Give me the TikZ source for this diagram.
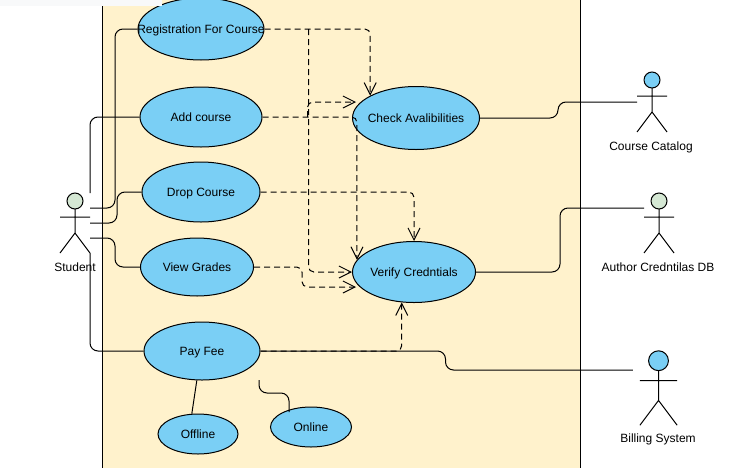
\documentclass[tikz,border=0pt]{standalone}
\usepackage{fontspec}
\setmainfont{Liberation Sans}
\usetikzlibrary{arrows.meta, positioning, calc, shapes.geometric}
\definecolor{ucBlue}{HTML}{7ACFF5}
\definecolor{sysBg}{HTML}{FFF2CC}
\definecolor{headGrn}{HTML}{D5E8D4}
\definecolor{barGray}{HTML}{F8F9FA}
\tikzset{
  % use case ellipses (text may run wider than the ellipse itself)
  uc/.style 2 args={draw=black, ellipse, fill=ucBlue, line width=0.75pt,
    inner xsep=-20pt, inner ysep=0pt, font=\fontsize{9}{11}\selectfont,
    text height=7pt, text depth=0.5pt,
    minimum width=#1*0.75pt, minimum height=#2*0.75pt},
  % stick figure, centred on the middle of the body
  actor/.pic={
    \draw[line width=0.75pt, fill=#1] (0,-22) circle[radius=8];
    \draw[line width=0.75pt] (0,-14) -- (0,10) (-15,-6) -- (15,-6)
      (-15,30) -- (0,10) -- (15,30);
    \coordinate (-w) at (-15,0);
    \coordinate (-e) at (15,0);
    \coordinate (-ne) at (15,-30);
    \coordinate (-se) at (15,30);
  },
  lbl/.style={font=\fontsize{9}{11}\selectfont, inner sep=1pt,
    text height=7pt, text depth=0.5pt},
  lnk/.style={line width=0.75pt, rounded corners=6pt},
  dep/.style={-{Straight Barb[length=9pt,width=9pt]}, line width=0.75pt,
    rounded corners=4pt, dash pattern=on 4.5pt off 3pt},
}
\begin{document}
\begin{tikzpicture}[x=0.75pt, y=-0.75pt]
\useasboundingbox (0,0) rectangle (738,468);
\clip (0,0) rectangle (738,468);

% ── system box ──
\node[fill=sysBg, inner sep=0pt, minimum width=478*0.75pt, minimum height=468*0.75pt] (sys) at (341.5,234) {};
\draw[line width=0.75pt] (sys.north west) -- (sys.south west);
\draw[line width=0.75pt] (sys.north east) -- (sys.south east);

% ── use cases ──
\node[uc={126}{62}] (reg) at (201,29) {Registration For Course};
\node[uc={122}{60}] (add) at (201,117) {Add course};
\node[uc={118}{60}] (drp) at (201,192) {Drop Course};
\node[uc={113}{58}] (vgr) at (197,267) {View Grades};
\node[uc={116}{58}] (pay) at (202,351) {Pay Fee};
\node[uc={80}{40}] (off) at (198,434) {Offline};
\node[uc={81}{40}] (onl) at (311,427) {Online};
\node[uc={127}{63}] (chk) at (416,118) {Check Avalibilities};
\node[uc={123}{61}] (ver) at (414,272) {Verify Credntials};

% ── actors ──
\pic (stu) at (75,223) {actor=headGrn};
\node[lbl] (stulbl) at (75,267) {Student};
\pic (crs) at (652,102) {actor=ucBlue};
\node[lbl] (crslbl) at (651,146) {Course Catalog};
\pic (aut) at (659,223) {actor=headGrn};
\node[lbl] (autlbl) at (658,267) {Author Credntilas DB};
\pic[scale=1.24] (bil) at (658.5,388) {actor=ucBlue};
\node[lbl] (billbl) at (658,438) {Billing System};

% ── student links ──
\draw[lnk] ($(stu-e)+(0,-15)$) -- ++(25,0) |- (reg.west);
\draw[lnk] (stu-ne) |- (add.west);
\draw[lnk] (stu-e) -- ++(27,0) |- (drp.west);
\draw[lnk] ($(stu-e)+(0,15)$) -- ++(25,0) |- (vgr.west);
\draw[lnk] (stu-se) |- (pay.west);

% ── dependencies (two leave reg and add on a shared stub) ──
\coordinate (regj) at ($(reg.east)+(44,0)$);
\coordinate (addj) at ($(add.east)+(45,0)$);
\draw[dep] (reg.east) -| (chk.154);
\draw[dep] (regj) |- (ver.west);
\draw[dep] (addj) |- ($(chk.west)+(4,-16)$);
\draw[dep] (add.east) -| (ver.168);
\draw[dep] (drp.east) -| (ver.north);
\draw[dep] (vgr.east) -- ++(48,0) |- ($(ver.west)+(4,15)$);
\draw[dep] (pay.east) -| (ver.248);

% ── external system links ──
\draw[lnk] (chk.east) -- ++(78,0) |- (crs-w);
\draw[lnk] (ver.east) -- ++(84,0) |- ($(aut-w)+(0,-15)$);
\draw[lnk] (pay.east) -- ++(185,0) |- ($(bil-w)+(-7,-18)$);

% ── payment kinds ──
\draw[lnk] (pay.260) -- (off.107);
\coordinate (paylnk) at ($(pay.center)+(57,29)$);
\draw[lnk] (paylnk) |- ($(onl.center)+(-22,-34)$) -- ($(onl.center)+(-22,-15)$);

\fill[barGray] (0,0) rectangle (162,6);

\end{tikzpicture}
\end{document}
